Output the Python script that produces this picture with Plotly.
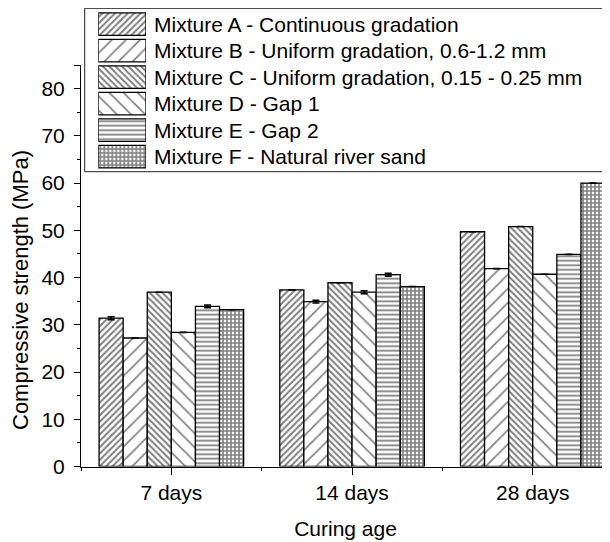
import plotly.graph_objects as go

categories = ["7 days", "14 days", "28 days"]
cat_pos = [0, 1, 2]

mixtures = [
    "Mixture A - Continuous gradation",
    "Mixture B - Uniform gradation, 0.6-1.2 mm",
    "Mixture C - Uniform gradation, 0.15 - 0.25 mm",
    "Mixture D - Gap 1",
    "Mixture E - Gap 2",
    "Mixture F - Natural river sand",
]

mix_a = [31.4, 37.4, 49.7]
mix_b = [27.2, 34.9, 41.9]
mix_c = [36.9, 38.9, 50.8]
mix_d = [28.4, 36.9, 40.7]
mix_e = [33.9, 40.6, 44.9]
mix_f = [33.2, 38.1, 60.0]

err_a = [0.3, 0.0, 0.0]
err_b = [0.0, 0.3, 0.0]
err_c = [0.0, 0.0, 0.0]
err_d = [0.0, 0.3, 0.0]
err_e = [0.3, 0.3, 0.0]
err_f = [0.0, 0.0, 0.0]

y_ticks = [0, 10, 20, 30, 40, 50, 60, 70, 80, 85]
y_ticktext = ["0", "10", "20", "30", "40", "50", "60", "70", "80", ""]
y_minor = [5, 15, 25, 35, 45, 55, 65, 75]

values = [mix_a, mix_b, mix_c, mix_d, mix_e, mix_f]
errors = [err_a, err_b, err_c, err_d, err_e, err_f]

pat_shapes = ["/", "/", "\\", "\\", "-", "+"]
pat_sizes = [4.5, 10, 4.5, 10, 4.5, 4]
pat_solid = [0.45, 0.16, 0.45, 0.16, 0.4, 0.65]

FONT = "Liberation Sans, Arial, sans-serif"
FS = 21

# page geometry (the page body adds an 8 px offset)
FIG_W, FIG_H, OFF = 602, 534, 8


def px_x(wx):
    return (wx - OFF) / FIG_W


def px_y(wy):
    return (FIG_H - (wy - OFF)) / FIG_H


fig = go.Figure()
for name, vals, errs, shp, sz, so in zip(mixtures, values, errors, pat_shapes, pat_sizes, pat_solid):
    fig.add_trace(go.Bar(
        x=cat_pos, y=vals, name=name, showlegend=False,
        xaxis="x", yaxis="y",
        marker=dict(color="white", line=dict(color="black", width=1.3),
                    pattern=dict(shape=shp, size=sz, solidity=so,
                                 fgcolor="black", bgcolor="white", fillmode="overlay")),
        error_y=dict(type="data", array=errs, color="black", thickness=1.6, width=3.5),
    ))

# legend swatches drawn as a bar trace on a hidden auxiliary axis
legend_rows = list(range(len(mixtures)))
fig.add_trace(go.Bar(
    y=legend_rows, x=[1] * len(mixtures), base=0, orientation="h",
    xaxis="x2", yaxis="y2", width=0.85, showlegend=False, hoverinfo="skip",
    marker=dict(color="white", line=dict(color="black", width=1.3),
                pattern=dict(shape=pat_shapes, size=pat_sizes, solidity=pat_solid,
                             fgcolor="black", bgcolor="white", fillmode="overlay")),
))

annotations = []
for i, name in enumerate(mixtures):
    annotations.append(dict(
        text=name, x=px_x(151.5), xref="paper", xanchor="left",
        y=i, yref="y2", yanchor="middle", showarrow=False,
        font=dict(family=FONT, size=FS, color="black"),
    ))
# y-axis title
annotations.append(dict(
    text="Compressive strength (MPa)", textangle=-90,
    x=px_x(20), xref="paper", xanchor="center",
    y=px_y(290), yref="paper", yanchor="middle", showarrow=False,
    font=dict(family=FONT, size=22, color="black"),
))

fig.update_layout(
    width=FIG_W, height=FIG_H,
    margin=dict(l=0, r=0, t=0, b=0),
    paper_bgcolor="white", plot_bgcolor="white",
    barmode="group", bargap=0.2, bargroupgap=0,
    font=dict(family=FONT, size=FS, color="black"),
    showlegend=False,
    annotations=annotations,
    shapes=[dict(type="rect", xref="paper", yref="paper",
                 x0=px_x(84.7), x1=1.02, y0=px_y(171.7), y1=px_y(8.3),
                 line=dict(color="#222", width=1), fillcolor="white", layer="below")],
    xaxis=dict(
        domain=[px_x(81), 1],
        range=[-0.5, -0.5 + (FIG_W - (81 - OFF)) / 180.7],
        tickmode="array", tickvals=cat_pos, ticktext=categories,
        ticks="outside", ticklen=7, tickcolor="black", tickwidth=1,
        showline=True, linecolor="black", linewidth=1,
        showgrid=False, zeroline=False, automargin=False,
        minor=dict(tickmode="array", tickvals=[-0.5, 0.5, 1.5], ticks="outside",
                   ticklen=3, tickcolor="black", tickwidth=1, showgrid=False),
        title=dict(text="Curing age", font=dict(size=FS), standoff=18),
        tickfont=dict(size=FS),
        anchor="y",
    ),
    yaxis=dict(
        domain=[px_y(466.5), px_y(65)],
        range=[0, 85],
        tickmode="array", tickvals=y_ticks, ticktext=y_ticktext,
        ticks="outside", ticklen=6, tickcolor="black", tickwidth=1,
        showline=True, linecolor="black", linewidth=1,
        showgrid=False, zeroline=False, automargin=False,
        ticklabelstandoff=5,
        minor=dict(tickmode="array", tickvals=y_minor,
                   ticks="outside", ticklen=3, tickcolor="black", tickwidth=1,
                   showgrid=False),
        tickfont=dict(size=FS),
        anchor="x",
    ),
    xaxis2=dict(domain=[px_x(98.3), px_x(146)], range=[0, 1], visible=False,
                anchor="y2", fixedrange=True),
    yaxis2=dict(domain=[px_y(169.95), px_y(10.95)], range=[5.5, -0.5], visible=False,
                anchor="x2", fixedrange=True),
)

fig.write_html("out.html")
